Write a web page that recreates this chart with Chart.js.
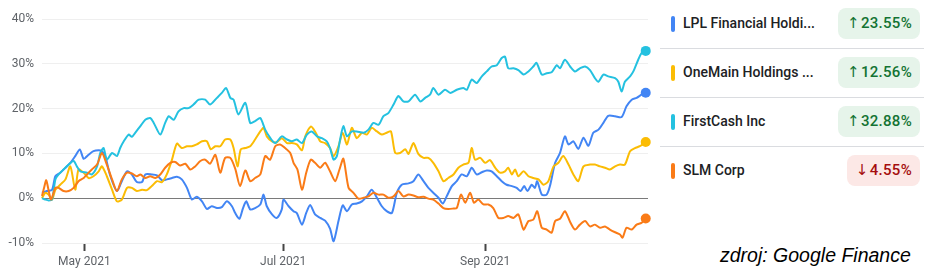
<!DOCTYPE html>
<html>
<head>
<meta charset="utf-8">
<script src="https://cdn.jsdelivr.net/npm/chart.js@4"></script>
<style>
  body { margin: 0; background: #fff; width: 938px; height: 273px; position: relative; overflow: hidden; font-family: Roboto, Arial, sans-serif; }
  #chart-box { position: absolute; left: 0; top: 0; width: 655px; height: 273px; }
  #legend { position: absolute; left: 660px; top: 0; width: 264px; }
  .row { position: relative; height: 48px; border-bottom: 1px solid #dadce0; }
  .row:last-child { border-bottom: none; }
  .bar { position: absolute; left: 11px; top: 16px; width: 4px; height: 16px; border-radius: 2px; }
  .name { position: absolute; left: 23px; top: 0; line-height: 46px; font-size: 14px; font-weight: 500; color: #202124; white-space: nowrap; }
  .badge { position: absolute; right: 4px; top: 8px; height: 31px; line-height: 31px; padding: 0 8px 0 9px; border-radius: 8px; font-size: 15px; font-weight: 500; letter-spacing: 0.3px; }
  .arrow { font-family: "DejaVu Sans", sans-serif; font-size: 15px; font-weight: normal; margin-right: 1px; }
  .up { background: #e6f4ea; color: #137333; }
  .down { background: #fce8e6; color: #a50e0e; }
  #source { position: absolute; left: 720px; top: 244px; font-family: "Liberation Sans", Arial, sans-serif; font-style: italic; font-size: 19.5px; color: #000; }
</style>
</head>
<body>
<div id="chart-box"><canvas id="chart" width="655" height="273"></canvas></div>
<div id="legend"></div>
<div id="source">zdroj: Google Finance</div>
<script>
// x = days since 18 Apr 2021, y = % change
const lplSeries = [[0,1.2],[1.5,1.6],[3.1,1.9],[4.1,4.9],[5.6,5.7],[7.2,6.8],[8.7,7.9],[10.2,9.4],[11.6,10.9],[12.8,8.8],[14.3,9.7],[15.8,10.5],[17.4,10.7],[18.4,10.5],[19.4,9.4],[21.0,4.9],[23.0,1.6],[24.5,3.8],[26.1,6.0],[27.6,5.3],[29.1,3.6],[30.7,3.6],[31.7,5.3],[33.7,5.3],[35.3,5.1],[36.8,4.0],[38.3,4.2],[39.9,4.5],[41.4,4.8],[42.9,4.2],[44.5,2.3],[46.0,-0.3],[47.5,0.3],[49.1,-0.7],[50.6,-2.4],[52.1,-1.8],[53.7,-2.2],[55.2,-2.0],[56.7,-0.7],[58.3,-1.8],[59.3,-3.3],[60.6,-4.6],[61.7,-2.2],[62.7,-0.7],[63.9,-2.5],[65.4,-2.2],[67.0,-1.4],[68.0,0.8],[69.0,-1.8],[70.6,-3.6],[72.1,-4.4],[73.6,-2.5],[74.1,-0.3],[75.7,-1.8],[77.2,-2.9],[78.2,-3.3],[79.8,-5.9],[81.1,-3.3],[82.3,-1.5],[83.8,-3.6],[85.4,-4.4],[86.9,-5.0],[88.4,-6.8],[89.5,-9.6],[91.0,-5.1],[92.3,-1.6],[93.6,-2.9],[95.1,-1.4],[96.6,-1.2],[98.2,-0.7],[99.7,0.4],[101.2,1.9],[102.8,0.1],[104.3,-1.8],[105.8,-2.9],[107.4,-3.3],[108.9,1.2],[110.4,3.0],[112.5,3.3],[114.0,3.8],[115.5,5.3],[117.1,3.8],[118.6,2.3],[120.1,1.2],[121.7,0.1],[123.0,-1.2],[124.2,0.4],[125.8,2.7],[127.3,3.8],[128.8,5.3],[130.4,4.9],[131.9,6.8],[133.4,5.3],[135.0,5.8],[136.5,6.2],[138.0,6.0],[139.6,4.9],[141.1,3.8],[142.6,3.0],[144.2,2.7],[145.7,2.3],[146.9,1.6],[148.0,2.7],[149.0,1.6],[150.3,3.0],[151.3,2.3],[152.0,3.8],[153.4,0.8],[154.9,0.8],[155.9,2.7],[157.5,7.9],[159.0,10.1],[160.5,13.8],[161.6,12.0],[163.1,12.7],[164.6,11.0],[166.2,13.5],[167.7,11.7],[169.2,14.6],[170.8,15.3],[172.3,16.8],[173.8,18.4],[175.9,18.3],[177.9,18.1],[179.4,20.5],[181.0,22.0],[182.5,22.4],[184.0,23.1],[185.3,23.55]];

const omfSeries = [[0,0],[1.0,1.2],[2.0,0.8],[3.1,-0.3],[4.1,1.9],[5.6,3.0],[7.2,4.2],[8.7,7.1],[10.2,1.9],[11.2,6.4],[12.8,5.7],[14.3,4.5],[15.8,4.9],[17.4,6.0],[18.4,7.1],[19.9,4.9],[21.5,1.9],[23.0,-0.7],[24.5,-0.3],[26.1,2.3],[27.6,2.3],[29.1,1.6],[30.7,1.9],[32.2,1.8],[33.7,2.7],[35.3,3.8],[36.8,3.6],[38.3,5.3],[39.9,8.6],[41.4,12.2],[42.9,11.2],[44.5,11.6],[46.0,11.6],[47.5,12.0],[49.1,12.7],[50.6,12.7],[51.8,10.9],[53.2,11.6],[54.7,11.6],[56.2,13.1],[57.8,13.1],[58.8,11.2],[60.0,7.1],[61.0,10.9],[62.4,11.2],[63.9,11.6],[65.4,13.1],[67.0,14.9],[68.0,15.7],[69.0,13.8],[70.6,12.7],[72.1,12.5],[73.6,13.4],[75.2,12.3],[76.7,12.3],[78.2,12.0],[79.8,10.7],[80.8,13.8],[82.5,16.0],[83.8,14.9],[85.4,12.7],[86.9,12.3],[88.4,11.2],[89.5,9.4],[91.0,11.6],[92.3,14.6],[93.6,12.0],[95.1,15.7],[96.6,13.4],[98.2,14.6],[99.7,14.2],[101.2,15.7],[102.8,14.9],[104.3,14.2],[105.8,14.6],[107.1,14.9],[108.4,10.1],[109.9,10.1],[111.5,10.9],[112.5,9.9],[114.0,12.3],[115.5,9.9],[117.1,9.0],[118.6,9.0],[120.1,7.9],[121.7,6.0],[123.2,3.8],[124.7,4.5],[126.3,5.3],[127.8,6.8],[129.3,7.5],[130.9,7.9],[131.9,11.2],[132.9,8.6],[134.5,9.0],[136.0,7.9],[137.5,8.5],[139.1,6.8],[140.6,5.7],[142.1,6.0],[143.1,6.8],[144.2,5.3],[145.2,6.4],[146.2,4.9],[147.8,6.0],[149.3,4.9],[150.8,4.5],[152.4,4.2],[153.9,3.0],[155.4,3.8],[157.0,7.1],[158.5,7.9],[160.0,9.4],[161.6,7.5],[163.1,5.3],[164.6,3.8],[166.2,7.1],[168.2,7.5],[169.7,7.5],[171.3,7.1],[172.8,6.8],[174.3,6.4],[175.9,7.1],[177.4,7.5],[178.9,7.5],[180.5,10.5],[182.0,11.2],[183.5,11.6],[185.3,12.56]];

const fcfsSeries = [[0,0],[1.0,-0.3],[2.0,-0.5],[3.1,-0.3],[4.1,4.2],[5.1,5.3],[6.6,6.4],[8.2,7.5],[9.7,8.3],[10.7,7.1],[11.8,6.0],[13.8,5.7],[15.3,5.3],[16.9,7.1],[17.9,10.1],[18.9,11.2],[19.9,8.6],[21.5,10.1],[23.0,9.4],[24.0,11.2],[25.1,12.7],[26.6,14.2],[27.6,13.7],[28.6,14.6],[30.2,16.1],[31.7,17.5],[33.2,17.9],[34.3,16.8],[36.3,14.2],[37.8,16.8],[38.9,18.3],[40.4,17.5],[41.9,19.4],[43.5,20.1],[45.0,20.1],[46.5,20.9],[48.1,22.0],[50.1,22.0],[51.6,20.9],[53.7,22.4],[55.2,23.5],[56.5,24.6],[57.8,22.4],[58.8,22.0],[60.3,18.7],[62.4,21.3],[63.9,16.8],[65.4,17.2],[67.0,17.9],[68.5,15.3],[70.0,13.5],[71.6,12.3],[73.6,13.8],[75.2,13.1],[76.7,12.7],[78.2,13.1],[79.8,12.3],[81.3,14.2],[82.8,14.9],[84.4,13.8],[85.9,13.4],[87.4,12.7],[88.4,11.2],[89.5,8.6],[90.5,9.4],[91.5,13.1],[92.5,16.1],[93.6,13.8],[95.1,14.9],[96.6,14.9],[98.7,14.6],[100.2,15.3],[101.7,16.8],[103.3,16.4],[104.8,18.3],[106.3,19.0],[107.9,20.9],[109.4,22.8],[110.9,21.6],[112.5,21.6],[114.5,23.1],[116.1,21.6],[117.6,22.4],[119.1,23.1],[120.1,24.6],[121.7,23.1],[123.7,24.2],[125.3,23.5],[127.3,24.2],[129.3,24.6],[130.4,24.2],[131.9,26.5],[133.4,25.7],[135.0,27.2],[136.5,28.3],[138.0,29.4],[139.6,29.7],[141.1,31.3],[142.1,31.6],[143.1,29.0],[144.7,29.0],[146.2,28.6],[147.8,27.6],[149.3,28.3],[150.8,29.4],[151.8,30.2],[153.4,27.6],[154.9,27.9],[156.4,28.1],[158.0,29.7],[159.0,29.0],[160.5,30.9],[162.1,29.4],[163.6,28.3],[165.1,29.0],[166.7,29.4],[168.2,28.6],[169.7,26.8],[170.8,26.0],[172.3,27.6],[173.8,27.2],[175.9,26.8],[176.9,26.0],[177.9,23.8],[178.9,26.0],[180.5,27.2],[181.5,28.3],[183.0,30.9],[184.0,32.4],[185.3,32.88]];

const slmSeries = [[0,0.5],[0.7,2.5],[1.3,4.0],[2.1,1.5],[2.8,-0.3],[4.1,2.3],[5.1,2.3],[6.6,1.6],[8.2,1.6],[9.7,2.3],[11.2,3.8],[12.8,4.5],[13.8,5.3],[15.3,6.4],[16.9,7.5],[18.4,10.1],[19.7,7.9],[21.5,4.2],[23.0,1.6],[24.5,4.2],[26.1,5.7],[27.6,5.5],[29.1,4.9],[30.2,5.3],[31.7,4.5],[33.2,4.9],[34.8,4.5],[36.3,5.3],[37.8,6.8],[39.4,7.9],[40.9,8.1],[42.4,7.3],[44.0,7.7],[45.5,6.4],[47.0,7.1],[48.6,8.3],[50.1,8.6],[51.6,7.7],[53.2,9.7],[54.7,5.7],[56.2,9.0],[57.8,9.0],[59.3,6.6],[60.8,2.7],[62.4,6.2],[63.9,3.8],[65.4,4.5],[67.0,5.3],[68.5,9.4],[70.0,8.6],[71.6,11.6],[73.1,12.0],[74.6,11.2],[76.2,10.1],[77.2,7.9],[78.4,6.4],[79.8,1.9],[81.1,5.7],[82.5,8.6],[83.8,7.9],[85.4,6.8],[86.9,7.9],[88.4,6.0],[90.0,3.8],[91.3,6.4],[92.5,8.8],[94.1,2.3],[95.6,1.2],[97.1,-0.1],[98.7,0.1],[100.2,0.4],[101.7,1.2],[103.3,0.8],[104.8,0.8],[106.3,0.1],[107.9,0.4],[109.4,1.6],[110.9,0.4],[112.5,0.8],[114.0,0.6],[115.5,0.2],[117.1,0.3],[118.6,-0.1],[120.1,-0.3],[121.7,-1.2],[123.2,-2.2],[124.7,-2.4],[126.3,-2.3],[127.3,-2.2],[128.6,0.8],[129.9,-1.0],[131.4,1.2],[132.6,-1.0],[133.9,-0.3],[135.5,-1.4],[137.0,-1.4],[138.5,-2.2],[140.1,-4.4],[141.6,-4.4],[143.1,-4.0],[144.7,-4.4],[146.2,-3.6],[147.8,-7.0],[149.3,-5.1],[150.8,-4.8],[152.0,-2.9],[153.4,-6.6],[154.9,-7.0],[156.4,-7.7],[157.5,-5.1],[159.0,-4.6],[160.5,-2.9],[162.1,-5.3],[163.6,-7.0],[165.1,-5.9],[166.7,-5.1],[168.2,-6.3],[169.7,-5.9],[171.3,-6.6],[172.8,-6.3],[174.3,-7.0],[175.9,-7.6],[177.4,-8.1],[178.2,-8.8],[179.4,-6.6],[181.0,-7.0],[182.5,-5.9],[184.0,-5.5],[185.3,-4.55]];

const names = ["LPL Financial Holdi...", "OneMain Holdings ...", "FirstCash Inc", "SLM Corp"];
const changes = [23.55, 12.56, 32.88, -4.55];
const colours = ["#4285f4", "#fbbc04", "#24c1e0", "#fa7b17"];
const tickDays = [13, 74, 136];
const tickLabels = ["May 2021", "Jul 2021", "Sep 2021"];

const allSeries = [lplSeries, omfSeries, fcfsSeries, slmSeries];
const drawOrder = [3, 2, 1, 0];

// legend on the right
const legend = document.getElementById('legend');
names.forEach((n, i) => {
  const up = changes[i] >= 0;
  legend.innerHTML += `<div class="row">
      <div class="bar" style="background:${colours[i]}"></div>
      <div class="name">${n}</div>
      <div class="badge ${up ? 'up' : 'down'}"><span class="arrow">${up ? '↑' : '↓'}</span>${Math.abs(changes[i]).toFixed(2)}%</div>
    </div>`;
});

const datasets = allSeries.map((s, i) => ({
  label: names[i],
  data: s.map(p => ({x: p[0], y: p[1]})),
  borderColor: colours[i],
  backgroundColor: colours[i],
  borderWidth: 2,
  tension: 0.25,
  order: drawOrder[i],
  clip: false,
  pointRadius: ctx => ctx.dataIndex === s.length - 1 ? 5 : 0,
  pointBorderWidth: 0
}));

const tickFont = {family: 'Roboto', size: 12};

new Chart("chart", {
  type: "line",
  data: {datasets: datasets},
  options: {
    responsive: false,
    animation: false,
    layout: {padding: {top: 19, right: 7, left: 0, bottom: 0}},
    plugins: {legend: {display: false}, tooltip: {enabled: false}},
    scales: {
      x: {
        type: "linear", min: 0, max: 186,
        afterFit: s => { s.height = 30; },
        afterBuildTicks: s => { s.ticks = tickDays.map(v => ({value: v})); },
        ticks: {callback: (v, i) => tickLabels[i], color: "#5f6368", font: tickFont, padding: 4, maxRotation: 0, autoSkip: false},
        grid: {drawOnChartArea: false, drawTicks: true, tickLength: 8, tickColor: "#444", tickWidth: 2},
        border: {display: false}
      },
      y: {
        min: -10, max: 40,
        afterFit: s => { s.width = 42; },
        ticks: {stepSize: 10, callback: v => v + "%", color: "#5f6368", font: tickFont, padding: 8},
        grid: {drawTicks: false, color: c => c.tick && c.tick.value === 0 ? "#7a7a7a" : "#efefef", lineWidth: 1},
        border: {display: false}
      }
    }
  }
});
</script>
</body>
</html>
